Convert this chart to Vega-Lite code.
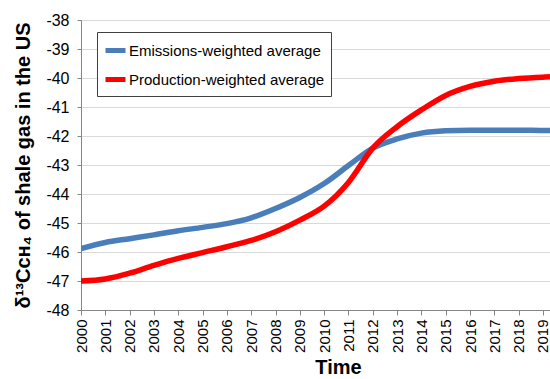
{
  "$schema": "https://vega.github.io/schema/vega-lite/v6.json",
  "autosize": {"type": "none"},
  "padding": {"left": 81, "top": 20, "right": 0, "bottom": 69},
  "width": 469,
  "height": 290,
  "background": "white",
  "config": {
    "font": "Liberation Sans",
    "view": {"stroke": "#868686", "strokeWidth": 1}
  },
  "data": {
    "values": [
      {"year": 2000, "series": "Emissions-weighted average", "d13C": -45.88},
      {"year": 2001, "series": "Emissions-weighted average", "d13C": -45.67},
      {"year": 2002, "series": "Emissions-weighted average", "d13C": -45.54},
      {"year": 2003, "series": "Emissions-weighted average", "d13C": -45.41},
      {"year": 2004, "series": "Emissions-weighted average", "d13C": -45.27},
      {"year": 2005, "series": "Emissions-weighted average", "d13C": -45.15},
      {"year": 2006, "series": "Emissions-weighted average", "d13C": -45.02},
      {"year": 2007, "series": "Emissions-weighted average", "d13C": -44.82},
      {"year": 2008, "series": "Emissions-weighted average", "d13C": -44.5},
      {"year": 2009, "series": "Emissions-weighted average", "d13C": -44.12},
      {"year": 2010, "series": "Emissions-weighted average", "d13C": -43.64},
      {"year": 2011, "series": "Emissions-weighted average", "d13C": -43.02},
      {"year": 2012, "series": "Emissions-weighted average", "d13C": -42.42},
      {"year": 2013, "series": "Emissions-weighted average", "d13C": -42.1},
      {"year": 2014, "series": "Emissions-weighted average", "d13C": -41.9},
      {"year": 2015, "series": "Emissions-weighted average", "d13C": -41.82},
      {"year": 2016, "series": "Emissions-weighted average", "d13C": -41.8},
      {"year": 2017, "series": "Emissions-weighted average", "d13C": -41.8},
      {"year": 2018, "series": "Emissions-weighted average", "d13C": -41.8},
      {"year": 2019, "series": "Emissions-weighted average", "d13C": -41.81},
      {"year": 2019.29, "series": "Emissions-weighted average", "d13C": -41.81},
      {"year": 2000, "series": "Production-weighted average", "d13C": -47.0},
      {"year": 2001, "series": "Production-weighted average", "d13C": -46.93},
      {"year": 2002, "series": "Production-weighted average", "d13C": -46.73},
      {"year": 2003, "series": "Production-weighted average", "d13C": -46.46},
      {"year": 2004, "series": "Production-weighted average", "d13C": -46.22},
      {"year": 2005, "series": "Production-weighted average", "d13C": -46.02},
      {"year": 2006, "series": "Production-weighted average", "d13C": -45.82},
      {"year": 2007, "series": "Production-weighted average", "d13C": -45.6},
      {"year": 2008, "series": "Production-weighted average", "d13C": -45.3},
      {"year": 2009, "series": "Production-weighted average", "d13C": -44.9},
      {"year": 2010, "series": "Production-weighted average", "d13C": -44.42},
      {"year": 2011, "series": "Production-weighted average", "d13C": -43.6},
      {"year": 2012, "series": "Production-weighted average", "d13C": -42.42},
      {"year": 2013, "series": "Production-weighted average", "d13C": -41.68},
      {"year": 2014, "series": "Production-weighted average", "d13C": -41.1},
      {"year": 2015, "series": "Production-weighted average", "d13C": -40.6},
      {"year": 2016, "series": "Production-weighted average", "d13C": -40.29},
      {"year": 2017, "series": "Production-weighted average", "d13C": -40.11},
      {"year": 2018, "series": "Production-weighted average", "d13C": -40.02},
      {"year": 2019, "series": "Production-weighted average", "d13C": -39.97},
      {"year": 2019.29, "series": "Production-weighted average", "d13C": -39.96}
    ]
  },
  "mark": {"type": "line", "strokeWidth": 5.5, "interpolate": "monotone", "clip": true},
  "encoding": {
    "x": {
      "field": "year",
      "type": "quantitative",
      "scale": {"domain": [2000, 2019.29], "nice": false, "zero": false},
      "axis": {
        "values": [2000, 2001, 2002, 2003, 2004, 2005, 2006, 2007, 2008, 2009, 2010, 2011, 2012, 2013, 2014, 2015, 2016, 2017, 2018, 2019],
        "format": "d",
        "labelAngle": -90,
        "labelAlign": "right",
        "labelBaseline": "middle",
        "labelFontSize": 15,
        "labelColor": "#000000",
        "labelPadding": 4,
        "labelFlush": false,
        "labelOverlap": false,
        "labelBound": false,
        "tickSize": 5,
        "tickColor": "#868686",
        "domainColor": "#868686",
        "grid": false,
        "title": "Time",
        "titleFontSize": 20,
        "titleFontWeight": "bold",
        "titleColor": "#000000",
        "titleX": 257,
        "titlePadding": 5
      }
    },
    "y": {
      "field": "d13C",
      "type": "quantitative",
      "scale": {"domain": [-48, -38], "nice": false, "zero": false},
      "axis": {
        "values": [-48, -47, -46, -45, -44, -43, -42, -41, -40, -39, -38],
        "labelExpr": "toString(datum.value)",
        "labelFontSize": 16,
        "labelColor": "#000000",
        "labelPadding": 8,
        "tickSize": 4,
        "tickColor": "#868686",
        "domainColor": "#868686",
        "gridColor": "#d9d9d9",
        "gridWidth": 1,
        "title": "δ¹³Cᴄʜ₄ of shale gas in the US",
        "titleFontSize": 20,
        "titleFontWeight": "bold",
        "titleColor": "#000000",
        "titlePadding": 12
      }
    },
    "color": {
      "field": "series",
      "type": "nominal",
      "scale": {
        "domain": ["Emissions-weighted average", "Production-weighted average"],
        "range": ["#4a7ebb", "#ff0000"]
      },
      "legend": {
        "title": null,
        "orient": "none",
        "legendX": 16,
        "legendY": 12,
        "direction": "vertical",
        "symbolType": "stroke",
        "symbolStrokeWidth": 5,
        "symbolSize": 400,
        "labelFontSize": 15,
        "labelLimit": 0,
        "labelColor": "#000000",
        "labelOffset": 1,
        "rowPadding": 6,
        "padding": 6,
        "strokeColor": "#404040",
        "fillColor": "#ffffff"
      }
    }
  }
}
